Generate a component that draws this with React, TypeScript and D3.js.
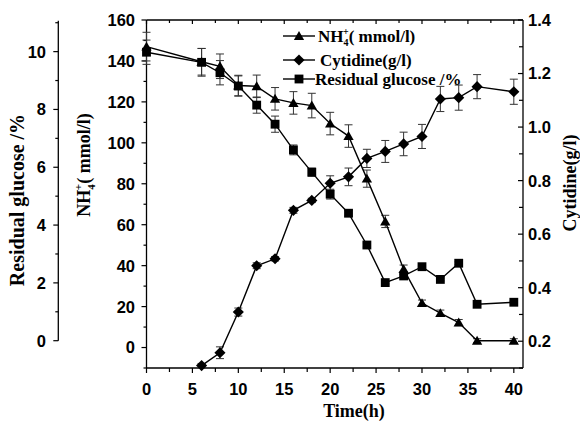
import React from 'react';
import * as d3 from 'd3';

const time = [0, 6, 8, 10, 12, 14, 16, 18, 20, 22, 24, 26, 28, 30, 32, 34, 36, 40];
const nh4 = [147, 139.6, 137.4, 128, 127.6, 121.5, 119.5, 118.2, 109.4, 103.3, 82.5, 61.6, 38.3, 21.7, 16.8, 12.2, 3.3, 3.3];
const nh4Err = [7, 6.5, 6, 5, 5.5, 5.5, 5.5, 6, 5.5, 5.5, 4.2, 3, 2, 1.5, 1.5, 1.5, 1, 1];
const glucose = [9.98, 9.63, 9.27, 8.81, 8.15, 7.49, 6.6, 5.83, 5.07, 4.41, 3.31, 2.01, 2.24, 2.56, 2.12, 2.68, 1.26, 1.33];
const glucoseErr = [0.42, 0.48, 0.42, 0.35, 0.28, 0.28, 0.17, 0.14, 0.17, 0.1, 0.07, 0.05, 0.05, 0.05, 0.05, 0.05, 0.05, 0.05];
const timeC = [6, 8, 10, 12, 14, 16, 18, 20, 22, 24, 26, 28, 30, 32, 34, 36, 40];
const cytidine = [0.109, 0.157, 0.309, 0.482, 0.508, 0.689, 0.726, 0.79, 0.814, 0.883, 0.909, 0.937, 0.965, 1.105, 1.11, 1.151, 1.132];
const cytidineErr = [0.008, 0.022, 0.015, 0.011, 0.008, 0.011, 0.008, 0.028, 0.033, 0.034, 0.041, 0.044, 0.045, 0.047, 0.047, 0.045, 0.047];

const xTicks = [0, 5, 10, 15, 20, 25, 30, 35, 40];
const nh4Ticks = [0, 20, 40, 60, 80, 100, 120, 140, 160];
const glucoseTicks = [0, 2, 4, 6, 8, 10];
const cytTicks = [0.2, 0.4, 0.6, 0.8, 1.0, 1.2, 1.4];

const legendLabels = ['Cytidine(g/l)', 'Residual glucose /%'];

const SANS = '"Liberation Sans", Arial, sans-serif';
const SERIF = '"Liberation Serif", "Times New Roman", serif';

export default function App() {
  const x = d3.scaleLinear().domain([0, 41]).range([146.5, 523]);
  const yN = d3.scaleLinear().domain([-10, 160]).range([368, 20]);
  const yG = d3.scaleLinear().domain([0, 11.07]).range([340.7, 20.7]);
  const yC = d3.scaleLinear().domain([0.1, 1.4]).range([368, 20]);

  const left = x.range()[0];
  const right = x.range()[1];
  const top = yN.range()[1];
  const bottom = yN.range()[0];
  const gAxisX = 58.3;

  const line = (xs: number[], ys: number[], ys2: (v: number) => number) =>
    d3.line<number>().x((_, i) => x(xs[i])).y((d) => ys2(d))(ys) || '';

  const tri = d3.symbol(d3.symbolTriangle, 46)() || '';
  const sq = d3.symbol(d3.symbolSquare, 78)() || '';
  const dia = d3.symbol(d3.symbolSquare, 62)() || '';

  const errBars = (xs: number[], ys: number[], es: number[], sc: (v: number) => number, key: string) =>
    xs.map((t, i) => {
      const cx = x(t);
      const y1 = sc(ys[i] + es[i]);
      const y2 = sc(ys[i] - es[i]);
      return (
        <g key={key + i} stroke="#333" strokeWidth={1}>
          <line x1={cx} x2={cx} y1={y1} y2={y2} />
          <line x1={cx - 4} x2={cx + 4} y1={y1} y2={y1} />
          <line x1={cx - 4} x2={cx + 4} y1={y2} y2={y2} />
        </g>
      );
    });

  const xMinor = d3.range(2.5, 41, 5);
  const nMinor = d3.range(-10, 161, 20);
  const gMinor = d3.range(1, 11.1, 2);
  const cMinor = d3.range(0.1, 1.41, 0.2);

  return (
    <svg width={580} height={422} style={{ position: 'absolute', left: 0, top: 0, background: '#fff' }}>
      <rect x={0} y={0} width={580} height={422} fill="#fff" />
      {/* frame */}
      <g stroke="#000" strokeWidth={1.3} fill="none">
        <line x1={left} x2={right} y1={bottom} y2={bottom} />
        <line x1={left} x2={right} y1={top} y2={top} />
        <line x1={left} x2={left} y1={top} y2={bottom} />
        <line x1={right} x2={right} y1={top} y2={bottom} />
        <line x1={gAxisX} x2={gAxisX} y1={yG.range()[1]} y2={yG.range()[0]} />
      </g>
      {/* ticks */}
      <g stroke="#000" strokeWidth={1.2}>
        {xTicks.map((t) => (
          <g key={'xt' + t}>
            <line x1={x(t)} x2={x(t)} y1={bottom} y2={bottom + 5} />
            <line x1={x(t)} x2={x(t)} y1={top} y2={top + 4} />
          </g>
        ))}
        {xMinor.map((t) => (
          <g key={'xm' + t}>
            <line x1={x(t)} x2={x(t)} y1={bottom} y2={bottom + 4} />
            <line x1={x(t)} x2={x(t)} y1={top} y2={top + 3} />
          </g>
        ))}
        {nh4Ticks.map((t) => (
          <line key={'nt' + t} x1={left - 5} x2={left} y1={yN(t)} y2={yN(t)} />
        ))}
        {nMinor.map((t) => (
          <line key={'nm' + t} x1={left - 3} x2={left} y1={yN(t)} y2={yN(t)} />
        ))}
        {glucoseTicks.map((t) => (
          <line key={'gt' + t} x1={gAxisX - 5} x2={gAxisX} y1={yG(t)} y2={yG(t)} />
        ))}
        {gMinor.map((t) => (
          <line key={'gm' + t} x1={gAxisX - 3} x2={gAxisX} y1={yG(t)} y2={yG(t)} />
        ))}
        {cytTicks.map((t) => (
          <line key={'ct' + t} x1={right - 5} x2={right} y1={yC(t)} y2={yC(t)} />
        ))}
        {cMinor.map((t) => (
          <line key={'cm' + t} x1={right - 4} x2={right} y1={yC(t)} y2={yC(t)} />
        ))}
      </g>
      {/* tick labels */}
      <g fontFamily={SANS} fontWeight="bold" fontSize={16.5} fill="#000">
        {xTicks.map((t) => (
          <text key={'xl' + t} x={x(t)} y={395} textAnchor="middle">{t}</text>
        ))}
        {nh4Ticks.map((t) => (
          <text key={'nl' + t} x={135} y={yN(t)} dy="0.36em" textAnchor="end">{t}</text>
        ))}
        {glucoseTicks.map((t) => (
          <text key={'gl' + t} x={46} y={yG(t)} dy="0.36em" textAnchor="end">{t}</text>
        ))}
        {cytTicks.map((t) => (
          <text key={'cl' + t} x={528} y={yC(t)} dy="0.36em" textAnchor="start">{t.toFixed(1)}</text>
        ))}
      </g>
      {/* axis titles */}
      <g fontFamily={SERIF} fontWeight="bold" fill="#000" fontSize={18}>
        <text x={354} y={417} textAnchor="middle">Time(h)</text>
        <text transform="translate(24,200) rotate(-90)" textAnchor="middle" fontSize={20}>Residual glucose /%</text>
        <text transform="translate(89.5,165) rotate(-90)" textAnchor="middle">
          NH<tspan fontSize={11} dy={5}>4</tspan><tspan fontSize={11} dx={-6} dy={-13}>+</tspan><tspan dy={8}>( mmol/l)</tspan>
        </text>
        <text transform="translate(575.5,183) rotate(-90)" textAnchor="middle">Cytidine(g/l)</text>
      </g>
      {/* error bars */}
      {errBars(time, glucose, glucoseErr, yG, 'ge')}
      {errBars(time, nh4, nh4Err, yN, 'ne')}
      {errBars(timeC, cytidine, cytidineErr, yC, 'ce')}
      {/* lines */}
      <g fill="none" stroke="#000" strokeWidth={1.4}>
        <path d={line(time, glucose, yG)} />
        <path d={line(time, nh4, yN)} />
        <path d={line(timeC, cytidine, yC)} />
      </g>
      {/* markers */}
      <g fill="#000">
        {time.map((t, i) => (
          <path key={'gs' + i} d={sq} transform={`translate(${x(t)},${yG(glucose[i])})`} />
        ))}
        {time.map((t, i) => (
          <path key={'ns' + i} d={tri} transform={`translate(${x(t)},${yN(nh4[i]) + 1})`} />
        ))}
        {timeC.map((t, i) => (
          <path key={'cs' + i} d={dia} transform={`translate(${x(t)},${yC(cytidine[i])}) rotate(45)`} />
        ))}
      </g>
      {/* legend */}
      <g>
        <line x1={283} x2={315} y1={36} y2={36} stroke="#000" strokeWidth={1.4} />
        <path d={tri} transform="translate(299,37)" fill="#000" />
        <line x1={283} x2={315} y1={60} y2={60} stroke="#000" strokeWidth={1.4} />
        <path d={dia} transform="translate(299,60) rotate(45)" fill="#000" />
        <line x1={283} x2={315} y1={79} y2={79} stroke="#000" strokeWidth={1.4} />
        <path d={sq} transform="translate(299,79)" fill="#000" />
        <g fontFamily={SERIF} fontWeight="bold" fontSize={17} fill="#000">
          <text x={318} y={42}>
            NH<tspan fontSize={10} dy={4}>4</tspan><tspan fontSize={10} dx={-5.5} dy={-11}>+</tspan><tspan dy={7}>( mmol/l)</tspan>
          </text>
          <text x={320} y={66}>{legendLabels[0]}</text>
          <text x={315} y={85}>{legendLabels[1]}</text>
        </g>
      </g>
    </svg>
  );
}
